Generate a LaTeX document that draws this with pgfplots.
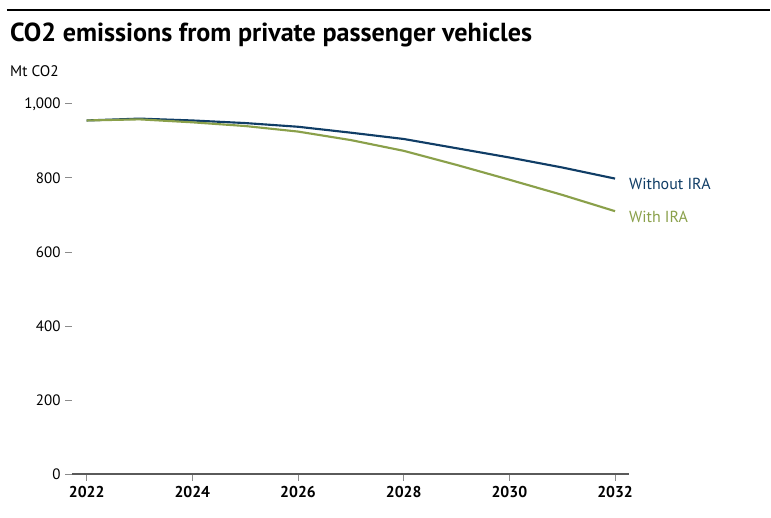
\documentclass[border=0pt]{standalone}
\usepackage{fontspec}
\setmainfont{PT Sans}
\usepackage{pgfplots}
\pgfplotsset{compat=1.18}
\definecolor{blueline}{RGB}{16,61,102}
\definecolor{greenline}{RGB}{138,160,74}
\definecolor{axgray}{RGB}{90,90,90}
\begin{document}
\begin{tikzpicture}[x=0.75pt,y=0.75pt]
\path (0,0) rectangle (771,518);
\draw[line width=2.2pt] (7,508) -- (771,508);
\node[anchor=base west, inner sep=0pt, font=\bfseries\fontsize{19.6}{22}\selectfont] at (10,476) {CO2 emissions from private passenger vehicles};
\node[anchor=base west, inner sep=0pt, font=\fontsize{11.5}{13}\selectfont] at (10,441) {Mt CO2};
\begin{axis}[
  at={(54pt,32.25pt)}, anchor=south west,
  scale only axis, width=418.5pt, height=278.25pt,
  xmin=2021.72, xmax=2032.26, ymin=0, ymax=1000,
  axis x line=bottom, axis y line=left,
  x axis line style={draw=axgray, line width=1.4pt, -},
  y axis line style={draw=none},
  xtick={2022,2024,...,2032}, ytick={0,200,...,1000},
  tick align=outside,
  major tick length=5pt,
  tick style={draw=axgray!70, line width=0.6pt},
  x tick label style={font=\bfseries\fontsize{11.8}{13}\selectfont, yshift=-1pt},
  y tick label style={font=\fontsize{11.3}{13}\selectfont},
  /pgf/number format/assume math mode=true,
  xticklabel={\pgfmathprintnumber[set thousands separator={}]{\tick}},
  yticklabel={\pgfmathprintnumber[set thousands separator={,}]{\tick}},
  clip=false,
]
\addplot[blueline, line width=1.6pt] coordinates {
 (2022,955) (2023,960) (2024,955) (2025,948) (2026,938) (2027,922) (2028,905) (2029,880) (2030,855) (2031,828) (2032,798)};
\addplot[greenline, line width=1.6pt] coordinates {
 (2022,955) (2023,958) (2024,950) (2025,940) (2026,925) (2027,902) (2028,873) (2029,835) (2030,795) (2031,754) (2032,710)};
\node[anchor=west, text=blueline, font=\fontsize{12}{14}\selectfont] at (axis cs:2032,798) [xshift=7pt, yshift=-4pt] {Without IRA};
\node[anchor=west, text=greenline, font=\fontsize{12}{14}\selectfont] at (axis cs:2032,710) [xshift=7pt, yshift=-4pt] {With IRA};
\end{axis}
\end{tikzpicture}
\end{document}
